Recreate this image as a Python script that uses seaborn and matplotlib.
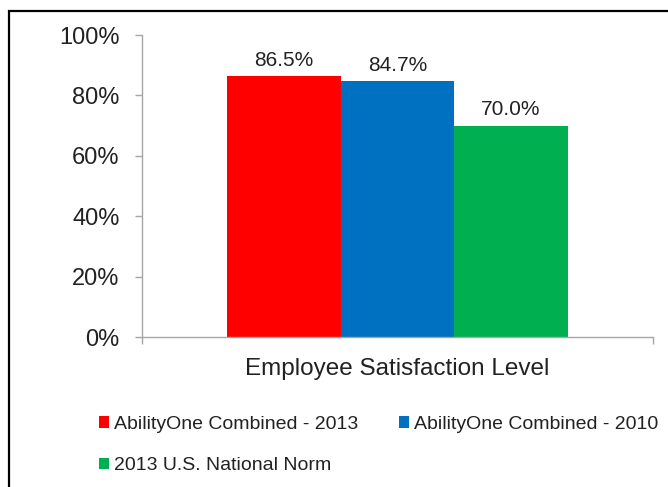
import matplotlib
matplotlib.use("Agg")
import matplotlib.pyplot as plt
import seaborn as sns
import pandas as pd
from matplotlib.patches import Rectangle

categorie = ["Employee Satisfaction Level"]
series = ["AbilityOne Combined - 2013", "AbilityOne Combined - 2010", "2013 U.S. National Norm"]
valeurs = [86.5, 84.7, 70.0]
couleurs = ["#FF0000", "#0070C0", "#00B050"]
graduations = [0, 20, 40, 60, 80, 100]

sns.set_theme(style="white")
plt.rcParams['font.family'] = ['Liberation Sans', 'DejaVu Sans']
texte = "#222222"
gris = "#A6A6A6"

df = pd.DataFrame({
    "categorie": categorie * len(series),
    "serie": series,
    "valeur": valeurs,
})

fig = plt.figure(figsize=(6.68, 4.87), dpi=100)
ax = fig.add_axes([141.7 / 668, 1 - 337 / 487, (653.3 - 141.7) / 668, (337 - 35) / 487])

sns.barplot(data=df, x="categorie", y="valeur", hue="serie", hue_order=series,
            palette=couleurs, width=0.665, gap=0, saturation=1, dodge=True,
            edgecolor="none", linewidth=0, ax=ax)

for conteneur in ax.containers:
    ax.bar_label(conteneur, fmt="%.1f%%", padding=4.5, fontsize=15, color=texte)

ax.set_xlim(-0.5, 0.5)
ax.set_ylim(0, 100)
ax.set_yticks(graduations)
ax.set_yticklabels([f"{g}%" for g in graduations])
ax.set_xlabel("")
ax.set_ylabel("")

sns.despine(ax=ax, top=True, right=True)
for cote in ["left", "bottom"]:
    ax.spines[cote].set_color(gris)
    ax.spines[cote].set_linewidth(1.0)

ax.tick_params(axis="y", which="major", left=True, length=5, width=1, color=gris,
               pad=11, labelsize=17, labelcolor=texte)
ax.tick_params(axis="x", which="major", bottom=False, length=0, pad=15,
               labelsize=17.5, labelcolor=texte)
ax.set_xticks([-0.5, 0.5], minor=True)
ax.tick_params(axis="x", which="minor", bottom=True, length=5, width=1, color=gris)

# legende en bas, ordre ligne par ligne
poignees, etiquettes = ax.get_legend_handles_labels()
ax.get_legend().remove()
ordre = [0, 2, 1]
fig.legend([poignees[i] for i in ordre], [etiquettes[i] for i in ordre],
           loc="upper left", bbox_to_anchor=(99 / 668, 1 - 416 / 487),
           ncol=2, frameon=False, fontsize=14, labelcolor=texte,
           handlelength=0.52, handleheight=0.52, handletextpad=0.25,
           columnspacing=2.1, labelspacing=1.25, borderpad=0, borderaxespad=0)

# cadre noir
fig.add_artist(Rectangle((9 / 668, -0.2), 1.2, 1.2 - 11 / 487, transform=fig.transFigure,
                         fill=False, edgecolor="black", linewidth=1.6, clip_on=False))

fig.savefig("out.png", dpi=100, facecolor="white")
